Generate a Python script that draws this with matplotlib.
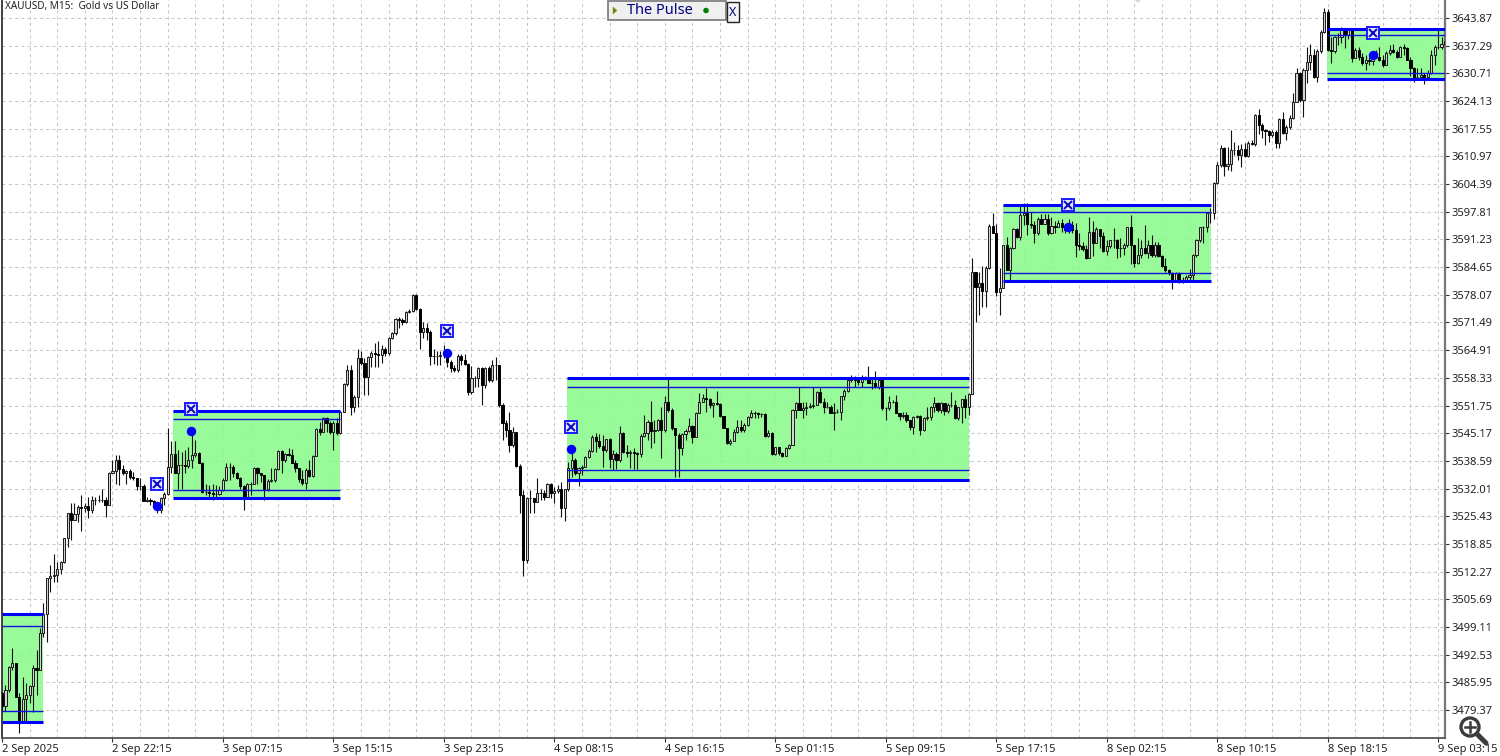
#!/usr/bin/env python3
"""XAUUSD M15 candles with consolidation boxes, MT5 look."""
import matplotlib
matplotlib.use("Agg")
import matplotlib.pyplot as plt
import numpy as np
from matplotlib.patches import Circle, Polygon, Rectangle

plt.rcParams["font.family"] = ["Noto Sans", "DejaVu Sans"]

first_open = 3483.5
closes = [
    3480.2, 3484.1, 3489.7, 3490.5, 3482.5, 3476.6, 3482.1, 3482.9, 3485.1, 3489.3,
    3488.9, 3497.6, 3502.2, 3510.7, 3511.2, 3511.4, 3513, 3514.6, 3520.2, 3526.1,
    3524.5, 3526, 3527.7, 3527.5, 3527.9, 3526.8, 3529.3, 3529.4, 3529.4, 3529.4,
    3528.1, 3535.8, 3536.3, 3538.8, 3536.6, 3535.6, 3536.2, 3534.7, 3534.4, 3532.5,
    3532.6, 3529.1, 3529.3, 3529, 3528.1, 3526.9, 3529.7, 3530.7, 3537.2, 3540.2,
    3535.8, 3537.6, 3537.6, 3537.4, 3538.8, 3540, 3540.5, 3538.2, 3531.3, 3531.3,
    3531, 3530.7, 3530.7, 3531.7, 3534, 3537.2, 3537.2, 3535.8, 3534.6, 3532.5,
    3529.9, 3533.1, 3533.2, 3536.8, 3535.6, 3535.2, 3531.8, 3533.9, 3534, 3536.6,
    3541, 3538.8, 3540.2, 3540, 3538.2, 3536.8, 3534.2, 3533.4, 3536.4, 3535,
    3539.7, 3546.2, 3545.5, 3548.7, 3547.5, 3545.5, 3547.5, 3545.1, 3550.3, 3556.9,
    3560.2, 3551.5, 3553.8, 3563, 3561.8, 3558.6, 3563.2, 3564.2, 3564, 3563.8,
    3565.3, 3564.3, 3567.7, 3568.9, 3572.2, 3572.1, 3571.7, 3574, 3574.3, 3578,
    3574.6, 3569.3, 3570.1, 3569.3, 3563.5, 3563.5, 3563.5, 3563.7, 3564.3, 3562.2,
    3560.6, 3560.3, 3563.5, 3562.6, 3561.6, 3555, 3558.2, 3558.4, 3560.6, 3556.6,
    3560.6, 3557.8, 3561.4, 3561.4, 3551.9, 3547.7, 3545.9, 3542.4, 3545.5, 3537.4,
    3530.5, 3515, 3529.7, 3529.7, 3528.9, 3531, 3530.9, 3530.1, 3533.1, 3531,
    3531.5, 3531.8, 3527.3, 3531.8, 3537, 3538.9, 3535.8, 3536.8, 3537.2, 3539.4,
    3541, 3544.3, 3543.2, 3542.1, 3541.2, 3543.7, 3539, 3540.2, 3538.8, 3545.1,
    3540.8, 3540.4, 3540.6, 3540.4, 3540.2, 3544.5, 3545.3, 3547.9, 3545.8, 3545.9,
    3548.3, 3545.9, 3552.7, 3550.8, 3546.3, 3544.7, 3541.6, 3545, 3545.8, 3546.9,
    3544.2, 3549.9, 3552.7, 3553.5, 3553.2, 3551.9, 3552.3, 3552.1, 3549.2, 3546.3,
    3542.9, 3543.4, 3545.5, 3546.7, 3545.9, 3547.1, 3549.1, 3550, 3549.9, 3549.7,
    3549.7, 3544.5, 3545.1, 3540.2, 3541.8, 3540.4, 3539.8, 3541.6, 3542.4, 3550.8,
    3552.4, 3550.8, 3551.1, 3551.5, 3551.6, 3551.9, 3555, 3552.7, 3551.5, 3551.5,
    3550, 3550.3, 3550.3, 3553.9, 3555.3, 3557.8, 3558, 3557.8, 3557.4, 3558.2,
    3558, 3557.2, 3557.2, 3556.1, 3557.8, 3551.1, 3551.1, 3552.7, 3552.7, 3550,
    3549.2, 3549.5, 3548.2, 3546.6, 3549.1, 3549.2, 3545.9, 3548.9, 3549.1, 3551.5,
    3552.3, 3550.7, 3552.3, 3550.4, 3551.9, 3551.9, 3548.7, 3551.3, 3553.2, 3551.3,
    3554.5, 3583.6, 3580, 3580.8, 3579, 3584.4, 3594.4, 3592.8, 3578.8, 3579.8,
    3589.9, 3584, 3589.1, 3593.6, 3591.7, 3597, 3597.6, 3595, 3594.7, 3592.7,
    3596.2, 3595, 3596.2, 3592.7, 3594.4, 3594.3, 3595.2, 3594.1, 3593.5, 3594.7,
    3593.5, 3589.9, 3589.7, 3588.9, 3586.7, 3593.1, 3590.5, 3593.6, 3592, 3588.5,
    3589.7, 3591, 3591.1, 3589.1, 3589.3, 3589.9, 3594.1, 3589.9, 3585.7, 3587.5,
    3589.3, 3588.1, 3589.9, 3587.5, 3589.9, 3587.3, 3584.9, 3584, 3583.3, 3581.7,
    3583.2, 3581.7, 3581.7, 3582.2, 3582.8, 3587.5, 3591.1, 3594.1, 3594.1, 3597.4,
    3597.6, 3604.7, 3608.9, 3612.9, 3608.7, 3609.2, 3612.5, 3612.5, 3611.3, 3612.7,
    3611.1, 3614.2, 3613.9, 3620.8, 3618.4, 3617.2, 3617.1, 3616, 3616.8, 3614.1,
    3619.8, 3616.6, 3617.9, 3620, 3624, 3630.7, 3624.4, 3631.5, 3633.5, 3635.1,
    3629.9, 3636.1, 3640.6, 3645.4, 3636.3, 3636.1, 3639.3, 3639.4, 3640.9, 3639.8,
    3640.9, 3634.3, 3636.3, 3634.5, 3633.2, 3633.9, 3633.7, 3635.6, 3634.7, 3633.9,
    3632.7, 3635.6, 3636.3, 3635.9, 3634.7, 3636.9, 3636.7, 3634, 3631.9, 3629.8,
    3629.9, 3630.3, 3629.8, 3630.9, 3635.1, 3637, 3636.9, 3637.7, 3638.5,
]
highs = [
    3483.7, 3485.3, 3489.8, 3494, 3490.6, 3483.3, 3487.3, 3485.7, 3485.2, 3490.1,
    3493.6, 3498.8, 3504.7, 3510.8, 3513.8, 3516.4, 3514.6, 3514.9, 3520.3, 3526.3,
    3528.5, 3528.5, 3528.1, 3530.5, 3528.5, 3530, 3530.2, 3530, 3530.5, 3532,
    3530, 3536, 3538.8, 3540, 3540, 3537.6, 3536.4, 3536.6, 3536, 3534.4,
    3534.4, 3533.2, 3530, 3529.7, 3529.3, 3528.9, 3530, 3531.3, 3546.4, 3543.2,
    3543.2, 3541.2, 3540.8, 3541.2, 3541.9, 3545.5, 3543.5, 3540.8, 3538.4, 3533.2,
    3532.9, 3533.2, 3532.9, 3532.5, 3534.4, 3538, 3538.2, 3537.6, 3536, 3534.8,
    3532.9, 3533.4, 3533.6, 3537.2, 3537.2, 3535.6, 3535.2, 3534.2, 3537, 3536.8,
    3541.2, 3541.2, 3540.4, 3541.6, 3541.3, 3538.8, 3537, 3536.4, 3536.8, 3538.8,
    3540, 3546.3, 3547.9, 3549.1, 3549.1, 3548, 3548, 3548.7, 3550.5, 3557.2,
    3561.4, 3561.4, 3554.2, 3565.3, 3564.6, 3563, 3563.5, 3564.6, 3566.5, 3567.2,
    3566.1, 3565.7, 3568.1, 3569.3, 3572.5, 3572.7, 3572.5, 3574.3, 3574.6, 3578.3,
    3578.3, 3574.9, 3571.7, 3571.3, 3569.7, 3565.3, 3564.6, 3564.6, 3566.1, 3565,
    3562.6, 3561.4, 3564, 3564, 3564, 3561.8, 3561.1, 3558.8, 3560.8, 3561,
    3560.8, 3561.1, 3562.6, 3563.2, 3561.4, 3552.3, 3548.3, 3550.3, 3546.7, 3545.3,
    3537.8, 3531.7, 3530.1, 3531.7, 3529.7, 3534.4, 3532, 3531.7, 3533.3, 3533.4,
    3532.3, 3532.9, 3533.6, 3532, 3538.4, 3540.5, 3539.2, 3537.2, 3537.6, 3539.7,
    3541.3, 3544.7, 3545.1, 3545, 3544.7, 3543.9, 3544, 3541.2, 3540.8, 3546.9,
    3545.5, 3542.3, 3541.2, 3541.6, 3540.8, 3544.9, 3549.5, 3548.3, 3552.9, 3548.3,
    3548.5, 3551.3, 3553.9, 3558.6, 3551.1, 3545.9, 3545.1, 3545.1, 3546.1, 3548.7,
    3547.1, 3550.3, 3554.8, 3554.6, 3556, 3553.5, 3552.7, 3555.3, 3552.3, 3549.2,
    3546.3, 3543.7, 3546.1, 3548.2, 3548.2, 3547.5, 3549.3, 3550.7, 3550.5, 3550.3,
    3549.9, 3549.9, 3545.9, 3545.5, 3542, 3542, 3540.8, 3541.8, 3542.6, 3551,
    3552.7, 3556.2, 3552.7, 3552.7, 3552.4, 3556.2, 3555.3, 3556, 3553.5, 3552.7,
    3551.9, 3552.3, 3550.9, 3554, 3555.6, 3558, 3559, 3558.8, 3558.2, 3559,
    3558.8, 3561.1, 3558.2, 3560, 3558, 3558, 3551.5, 3553.9, 3553.1, 3554.3,
    3550, 3550.3, 3550.3, 3548.2, 3549.3, 3549.5, 3549.5, 3549.1, 3551.5, 3551.6,
    3553.7, 3552.7, 3552.7, 3552.4, 3552.3, 3555, 3553.1, 3551.5, 3553.4, 3554.3,
    3554.8, 3586.7, 3583.6, 3583.6, 3584.8, 3584.9, 3595, 3597.6, 3595, 3584.4,
    3589.9, 3591.9, 3589.4, 3593.9, 3593.9, 3599.4, 3599.8, 3599.8, 3597.8, 3595.7,
    3596.5, 3597.3, 3597.3, 3597.3, 3596.6, 3595.5, 3595.9, 3596.2, 3595, 3596.2,
    3595.5, 3595.2, 3592.7, 3590.7, 3589.9, 3596.6, 3595.5, 3594.1, 3593.5, 3593.1,
    3591.1, 3591.1, 3593.9, 3591.3, 3591.5, 3590.3, 3594.3, 3597, 3589.5, 3591.5,
    3591.1, 3594.7, 3591.1, 3592.3, 3590.7, 3590.7, 3587.5, 3586.7, 3584.1, 3583.5,
    3583.6, 3583.6, 3582.4, 3582.8, 3584.1, 3587.7, 3591.3, 3594.3, 3594.4, 3597.8,
    3598.6, 3604.9, 3609.7, 3613.7, 3613.3, 3613.3, 3617.2, 3614.5, 3613.7, 3613.9,
    3614.1, 3614.7, 3614.9, 3621, 3622.2, 3618.8, 3617.6, 3617.2, 3617.2, 3617.2,
    3620, 3621.6, 3618.4, 3620.8, 3626.1, 3631.9, 3631.1, 3631.9, 3637, 3637.7,
    3636.4, 3636.4, 3640.9, 3646.2, 3645.9, 3639.4, 3639.6, 3640.2, 3641.7, 3641.4,
    3641.2, 3640.9, 3636.7, 3636.9, 3635.5, 3635.1, 3634.5, 3636.1, 3636.2, 3636.9,
    3635.1, 3636.1, 3637.4, 3637.7, 3636.3, 3637.2, 3637.8, 3636.9, 3634.7, 3632.3,
    3631.9, 3631.9, 3630.9, 3631.5, 3636.3, 3637.4, 3640.9, 3639.3, 3640.2,
]
lows = [
    3479.2, 3479.2, 3483.7, 3488.9, 3482.4, 3473.8, 3476.6, 3476.6, 3481, 3479,
    3482.9, 3488.9, 3496.8, 3495.6, 3507.5, 3509.9, 3509.9, 3511.8, 3514.2, 3518,
    3519.8, 3524.5, 3524.1, 3521.8, 3526.5, 3524.9, 3526.1, 3528.1, 3528.9, 3528.9,
    3525.2, 3528.1, 3535.6, 3533.2, 3532.9, 3535.2, 3533.2, 3534.2, 3534, 3531.7,
    3531.7, 3529.1, 3528.9, 3528.1, 3527.3, 3526.3, 3526.3, 3528.1, 3530.5, 3535.6,
    3535.6, 3531.8, 3531.8, 3535.6, 3536.8, 3537, 3539.6, 3538, 3530.9, 3530.5,
    3530.1, 3529.3, 3529.9, 3530.5, 3531.5, 3533.9, 3534, 3534.8, 3534.2, 3532,
    3526.8, 3529.7, 3530.5, 3533.1, 3533.2, 3533.6, 3529.4, 3531.5, 3533.6, 3533.6,
    3536.4, 3535.8, 3538.3, 3539.7, 3538, 3536, 3533.6, 3532.9, 3532, 3534.7,
    3534.8, 3539.7, 3544.7, 3545.4, 3545.5, 3545, 3541.2, 3544.7, 3545, 3550.3,
    3556.4, 3549.5, 3550.3, 3551.5, 3561.4, 3554.2, 3554.2, 3561, 3560.8, 3560.8,
    3561.8, 3563.5, 3563.8, 3567.5, 3568.5, 3570.1, 3570.9, 3571.4, 3573.8, 3574,
    3574.5, 3565.3, 3567.7, 3567.3, 3561.4, 3561.6, 3561.4, 3561.4, 3563, 3560.8,
    3559.8, 3559.6, 3559.8, 3561.4, 3561.4, 3554.2, 3554.6, 3556.2, 3556.2, 3551.9,
    3555.8, 3557.4, 3557.4, 3557.8, 3551.5, 3543.6, 3544.3, 3540.8, 3542, 3537.2,
    3526.1, 3511.2, 3514.2, 3526.1, 3526.1, 3528.7, 3529.3, 3529.4, 3529.9, 3529.7,
    3528.5, 3530.9, 3525.2, 3524.4, 3531.5, 3534.8, 3535.2, 3532.6, 3535.2, 3537.2,
    3539.2, 3540.8, 3540.8, 3541.6, 3537.2, 3540.8, 3536.8, 3536.4, 3536.6, 3538.4,
    3540.4, 3539.6, 3536.8, 3536.6, 3536.6, 3539.6, 3544.3, 3543.6, 3541.6, 3542.8,
    3545.8, 3539.2, 3545.5, 3550.3, 3545.9, 3534.8, 3534.8, 3540, 3543.6, 3545.5,
    3542.9, 3544.2, 3549.9, 3552.7, 3550.3, 3551.1, 3549.1, 3551.9, 3549.1, 3546.3,
    3542.7, 3542.4, 3543.4, 3545.3, 3545.5, 3545.5, 3546.9, 3548.7, 3548.7, 3548.7,
    3549.1, 3544.3, 3544.3, 3540, 3540, 3540, 3539.6, 3540.4, 3541.3, 3542.4,
    3548.7, 3550.7, 3548.7, 3549.5, 3551.1, 3551.1, 3551.9, 3552.4, 3549.9, 3551.1,
    3549.9, 3545.9, 3549.9, 3548.3, 3553.1, 3555, 3557.4, 3556.2, 3556.6, 3556.2,
    3557.7, 3557, 3555.6, 3555.8, 3555.6, 3550.8, 3548.3, 3550.8, 3552.3, 3549.9,
    3548.3, 3548.7, 3547.9, 3545.9, 3545, 3548.7, 3544.7, 3545.8, 3548.2, 3548.3,
    3550.3, 3550.3, 3549.9, 3549.5, 3550, 3551.5, 3548.5, 3548.3, 3547.5, 3548.7,
    3549.5, 3554.4, 3571.7, 3573.2, 3575.2, 3575.2, 3584.1, 3592.7, 3577.8, 3573.2,
    3579.6, 3584, 3581.6, 3588.9, 3591.5, 3591.1, 3594.7, 3592.3, 3593.9, 3590.3,
    3592.3, 3595, 3595, 3592.4, 3592.5, 3592.7, 3594.1, 3593.1, 3592.8, 3592.7,
    3592.7, 3587.1, 3588.7, 3588.6, 3586.5, 3589.9, 3587.3, 3592.3, 3589.1, 3588.3,
    3587.5, 3589.1, 3589.1, 3586.7, 3587.1, 3587.5, 3589.5, 3585.5, 3584.7, 3585.4,
    3586.7, 3587.8, 3586.7, 3587.1, 3587.1, 3587.1, 3584.6, 3583.6, 3582.8, 3579.4,
    3581.6, 3580.8, 3580.8, 3581.4, 3581.4, 3581.6, 3587.1, 3590.7, 3590.3, 3593.1,
    3595.1, 3596.2, 3604.4, 3608.5, 3606.3, 3607.7, 3607.6, 3611.3, 3610.1, 3608.5,
    3610.9, 3610.8, 3613.7, 3613.5, 3616.4, 3615.3, 3613.7, 3614.5, 3615.7, 3612.9,
    3612.9, 3616.3, 3614.9, 3617.6, 3619.8, 3624, 3624, 3620.3, 3628.5, 3631.5,
    3629.7, 3628.7, 3635.6, 3640.4, 3636.1, 3633.1, 3635.6, 3637.5, 3638, 3636.7,
    3638.8, 3633.5, 3634.3, 3634, 3632.7, 3631.5, 3632.7, 3632.7, 3634.3, 3633.7,
    3632.3, 3632.9, 3635.1, 3635.5, 3634.3, 3634.5, 3635.1, 3633.9, 3630.1, 3628.7,
    3629.3, 3629.1, 3628.2, 3629.5, 3630.5, 3632.7, 3636.4, 3636.4, 3637.2,
]

# boxes: start/end bar, outer top, inner top, inner bottom, outer bottom
box_start = [0, 49.5, 163.7, 290, 383.8]
box_end = [11.9, 97.9, 280.1, 350.2, 418]
box_top = [3502.2, 3550.45, 3558.3, 3599.4, 3641.25]
box_upper = [3499.3, 3548.55, 3556.15, 3597.8, 3639.85]
box_lower = [3479.1, 3531.7, 3536.4, 3583.25, 3630.8]
box_bottom = [3476.5, 3529.8, 3534.05, 3581.35, 3629.4]

signal_bar = [44.9, 54.75, 128.9, 164.8, 308.8, 397.2]
signal_box_price = [3533.1, 3550.9, 3569.5, 3546.65, 3599.4, 3640.3]
signal_dot_price = [3527.9, 3545.7, 3564.2, 3541.4, 3594.2, 3635.1]

price_ticks = [3643.87, 3637.29, 3630.71, 3624.13, 3617.55, 3610.97, 3604.39,
               3597.81, 3591.23, 3584.65, 3578.07, 3571.49, 3564.91, 3558.33,
               3551.75, 3545.17, 3538.59, 3532.01, 3525.43, 3518.85, 3512.27,
               3505.69, 3499.11, 3492.53, 3485.95, 3479.37]
time_labels = ["2 Sep 2025", "2 Sep 22:15", "3 Sep 07:15", "3 Sep 15:15",
               "3 Sep 23:15", "4 Sep 08:15", "4 Sep 16:15", "5 Sep 01:15",
               "5 Sep 09:15", "5 Sep 17:15", "8 Sep 02:15", "8 Sep 10:15",
               "8 Sep 18:15", "9 Sep 03:15"]

W, H = 1500, 756
fig = plt.figure(figsize=(W / 100, H / 100), dpi=100, facecolor="white")
ax = fig.add_axes([2 / W, (H - 738) / H, 1443 / W, 738 / H])
ax.set_xlim(0, 418)
ax.set_ylim(3472.71, 3648.15)

closes = np.array(closes)
highs = np.array(highs)
lows = np.array(lows)
opens = np.r_[first_open, closes[:-1]]
bars = np.arange(len(closes))

major = np.arange(0, 420, 32)
ax.set_xticks(major)
ax.set_xticklabels(time_labels, ha="left", fontsize=8, color="#222222")
ax.set_xticks(np.arange(0, 419, 8), minor=True)
ax.set_yticks(price_ticks)
ax.set_yticklabels([f"{p:.2f}" for p in price_ticks], fontsize=8, color="#222222")
ax.yaxis.tick_right()
ax.tick_params(axis="x", which="major", length=3, width=0.8, color="#333333", pad=1)
ax.tick_params(axis="x", which="minor", length=0)
ax.tick_params(axis="y", length=3, width=0.8, color="#333333", pad=2)
ax.grid(True, which="both", color="#c8c8c8", lw=0.75, ls=(0, (3, 3)))
ax.set_axisbelow(True)

for name, col, lw in (("left", "#333333", 1.3), ("bottom", "#555555", 1.3), ("right", "#777777", 1.6)):
    ax.spines[name].set_color(col)
    ax.spines[name].set_linewidth(lw)
ax.spines["top"].set_visible(False)

# green zones sit over the grid and leave it faintly visible
for x0, x1, top, bot in zip(box_start, box_end, box_top, box_bottom):
    ax.add_patch(Rectangle((x0, bot), x1 - x0, top - bot, fc="#8afa8a", ec="none", alpha=0.88, zorder=2))

# candles
up = closes >= opens
ax.vlines(bars, lows, highs, color="#111111", lw=0.8, zorder=3)
ax.bar(bars[up], (closes - opens)[up], bottom=opens[up], width=0.62, fc="#d4d4d4", ec="#1a1a1a", lw=0.7, zorder=4)
ax.bar(bars[~up], (closes - opens)[~up], bottom=opens[~up], width=0.62, fc="#000000", ec="#000000", lw=0.7, zorder=4)

# box edges
for x0, x1, top, up_l, lo, bot in zip(box_start, box_end, box_top, box_upper, box_lower, box_bottom):
    ax.hlines([up_l, lo], x0, x1, color="#1010e0", lw=1.0, zorder=5)
    ax.hlines([top, bot], x0, x1, color="#0000ff", lw=2.2, zorder=5)

# signal markers
ax.plot(signal_bar, signal_box_price, ls="none", marker="s", ms=8.5, mfc="#e8e8ff", mec="#1a1aff", mew=1.4, zorder=6)
ax.plot(signal_bar, signal_box_price, ls="none", marker="x", ms=5.5, mec="#1010c0", mew=1.5, zorder=7)
ax.plot(signal_bar, signal_dot_price, ls="none", marker="o", ms=5.8, color="#0000ff", zorder=6)

# overlay in screen pixels for the terminal widgets
ui = fig.add_axes([0, 0, 1, 1], facecolor="none")
ui.set_xlim(0, W)
ui.set_ylim(H, 0)
ui.axis("off")
ui.text(5, 6, "XAUUSD, M15:  Gold vs US Dollar", fontsize=7.2, color="#222222", va="center")
ui.add_patch(Polygon([[1135, 0], [1141, 0], [1138, 3]], fc="#d8d8d8", ec="none"))
ui.add_patch(Rectangle((607.5, 1), 118, 19, fc="#f0f0f0", ec="#777777", lw=1.2))
ui.add_patch(Polygon([[613, 7], [613, 14], [617, 10.5]], fc="#2e8b2e", ec="#d09020", lw=0.5))
ui.text(627, 11, "The Pulse", fontsize=10.5, color="#000080", va="center", fontweight="semibold")
ui.add_patch(Circle((706, 10.5), 2.8, fc="#008000", ec="none"))
ui.add_patch(Rectangle((727, 2), 12, 20, fc="#f5f5f5", ec="#222222", lw=1.0))
ui.text(733, 12.5, "X", fontsize=9, color="#000080", ha="center", va="center")

# magnifier icon
ui.add_patch(Circle((1470, 727), 9, fc="white", ec="#3c3c3c", lw=2.4))
ui.plot([1477, 1486], [734, 743], color="#3c3c3c", lw=3.6, solid_capstyle="round")
ui.plot([1465, 1475], [727, 727], color="#3c3c3c", lw=1.8)
ui.plot([1470, 1470], [722, 732], color="#3c3c3c", lw=1.8)

fig.savefig("out.png", dpi=100)
